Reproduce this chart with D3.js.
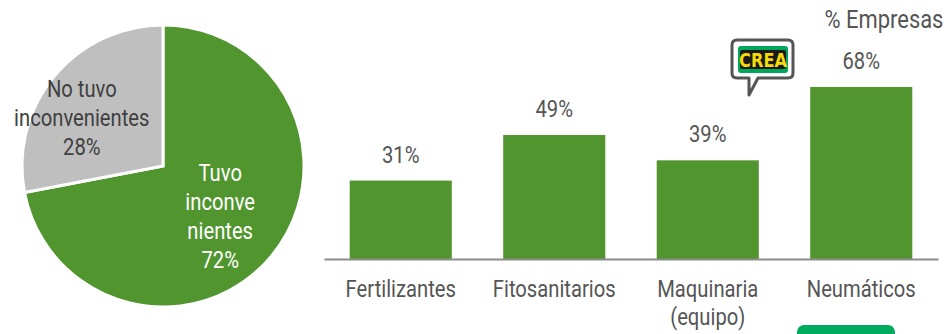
<!DOCTYPE html>
<html>
<head>
<meta charset="utf-8">
<script src="https://cdn.jsdelivr.net/npm/d3@7"></script>
<style>
  body { margin: 0; background: #fff; }
  svg text { font-family: Roboto, "Liberation Sans", sans-serif; fill: #555; }
</style>
</head>
<body>
<svg id="chart" width="951" height="334"></svg>
<script>
// pie data
var pieLabels = [["Tuvo", "inconve", "nientes"], ["No tuvo", "inconvenientes"]];
var pieValues = [72, 28];

// bar data
var categories = [["Fertilizantes"], ["Fitosanitarios"], ["Maquinaria", "(equipo)"], ["Neumáticos"]];
var barValues = [31, 49, 39, 68];

var green = "#51952f",
    grey = "#bfbfbf";

var svg = d3.select("#chart");

// narrow-looking text: bigger font squeezed horizontally
function label(parent, px, py, lines, size, lh, fill) {
    var g = parent.append("g")
        .attr("transform", "translate(" + px + "," + py + ") scale(0.86,1)");
    var t = g.append("text")
        .attr("text-anchor", "middle")
        .style("font-size", size + "px");
    if (fill) t.style("fill", fill);
    lines.forEach(function(l, k) {
        t.append("tspan").attr("x", 0).attr("y", k * lh).text(l);
    });
    return g;
}

// ---- pie ----
var cx = 163, cy = 166, radius = 141;

var pie = d3.pie().sort(null).value(function(d) { return d; });
var arc = d3.arc().innerRadius(0).outerRadius(radius);
var labelArc = d3.arc().innerRadius(95).outerRadius(95);
var nudge = [[-16, -10], [-8, 13]];

var gp = svg.append("g")
    .attr("transform", "translate(" + cx + "," + cy + ")");

var slices = pie(pieValues);

gp.selectAll("path")
    .data(slices)
    .enter().append("path")
    .attr("d", arc)
    .attr("fill", function(d, i) { return i == 0 ? green : grey; })
    .attr("stroke", "#fff")
    .attr("stroke-width", 3);

slices.forEach(function(d, i) {
    var c = labelArc.centroid(d);
    var lines = pieLabels[i].concat([d.data + "%"]);
    var top = -(lines.length - 1) * 29 / 2 + 8;
    label(gp, c[0] + nudge[i][0], c[1] + nudge[i][1] + top, lines, 23.5, 29,
        i == 0 ? "#fff" : "#404040");
});

// ---- bars ----
var baseY = 259;
var x = d3.scaleBand()
    .domain(d3.range(categories.length))
    .range([324, 938])
    .paddingInner(0.335)
    .paddingOuter(0.1675);

var y = d3.scaleLinear()
    .domain([0, 100])
    .range([baseY, baseY - 253]);

var gb = svg.append("g");

gb.selectAll("rect.bar")
    .data(barValues)
    .enter().append("rect")
    .attr("class", "bar")
    .attr("x", function(d, i) { return x(i); })
    .attr("y", function(d) { return y(d); })
    .attr("width", x.bandwidth())
    .attr("height", function(d) { return baseY - y(d); })
    .attr("fill", green);

barValues.forEach(function(d, i) {
    label(gb, x(i) + x.bandwidth() / 2, y(d) - 18, [d + "%"], 23.5, 28);
});

// x axis
var xAxis = gb.append("g")
    .attr("transform", "translate(0," + baseY + ")")
    .call(d3.axisBottom(x).tickSize(0).tickFormat(""));
xAxis.select(".domain").attr("stroke", "#8c8c8c").attr("stroke-width", 2);

categories.forEach(function(d, i) {
    label(gb, x(i) + x.bandwidth() / 2, baseY + 38, d, 23.5, 28);
});

label(svg, 884, 28, ["% Empresas"], 25.5, 28);

// ---- CREA logo ----
var logo = svg.append("g").attr("transform", "translate(731,40)");
logo.append("path")
    .attr("d", "M6,0 H57 Q62,0 62,5 V33 Q62,38 57,38 H27 L18,55 L18,38 H6 Q1,38 1,33 V5 Q1,0 6,0 Z")
    .attr("fill", "#fff")
    .attr("stroke", "#555")
    .attr("stroke-width", 3)
    .attr("stroke-linejoin", "round");
logo.append("rect")
    .attr("x", 7).attr("y", 6).attr("width", 50).attr("height", 27)
    .attr("rx", 3)
    .attr("fill", "#00a65a");
logo.append("rect")
    .attr("x", 9).attr("y", 10).attr("width", 46).attr("height", 19)
    .attr("rx", 2)
    .attr("fill", "#1a1a1a");
logo.append("text")
    .attr("transform", "translate(32,27) scale(0.85,1)")
    .attr("text-anchor", "middle")
    .style("font-family", "'DejaVu Sans', sans-serif")
    .style("font-weight", "bold")
    .style("font-size", "19px")
    .style("fill", "#f5d90a")
    .text("CREA");

// cropped green tab at the bottom
svg.append("rect")
    .attr("x", 797).attr("y", 325)
    .attr("width", 98).attr("height", 20)
    .attr("rx", 7)
    .attr("fill", "#00ab5d");
</script>
</body>
</html>
